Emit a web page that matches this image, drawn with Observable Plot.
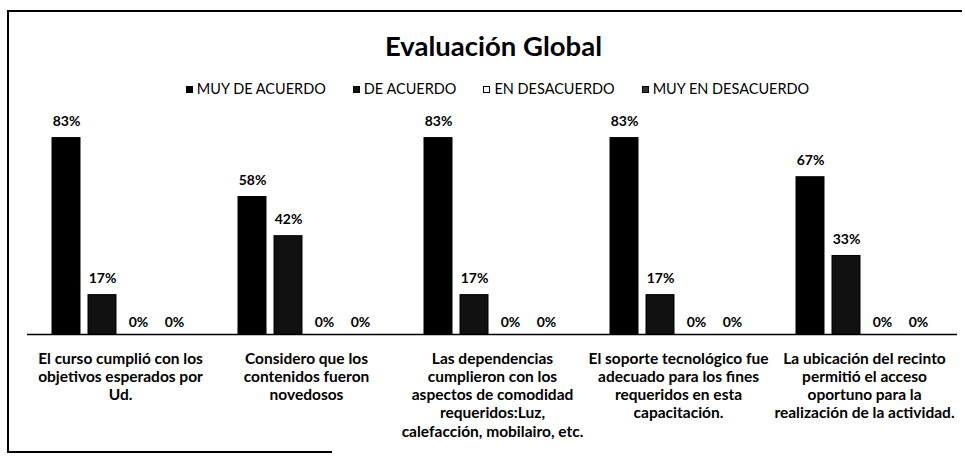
<!DOCTYPE html>
<html>
<head>
<meta charset="utf-8">
<script src="https://cdn.jsdelivr.net/npm/d3@7"></script>
<script src="https://cdn.jsdelivr.net/npm/@observablehq/plot@0.6"></script>
<style>
  html, body { margin: 0; padding: 0; background: #fff; }
  #root { position: relative; width: 965px; height: 457px; overflow: hidden; font-family: Lato, "Open Sans", sans-serif; color: #000; }
  #title { height: 66px; box-sizing: border-box; padding-top: 29px; padding-left: 22px; text-align: center; font-size: 27.5px; line-height: 34px; font-weight: 700; }
  #legend { height: 34px; box-sizing: border-box; padding-top: 12px; padding-left: 30px; display: flex; justify-content: center; gap: 27px; font-size: 14.5px; line-height: 20px; }
  .item { display: flex; align-items: center; white-space: nowrap; }
  .sw { width: 7px; height: 7px; margin-right: 4px; box-sizing: border-box; border: 1px solid #000; }
  .frame { position: absolute; background: #000; }
</style>
</head>
<body>
<div id="root">
  <div id="title"></div>
  <div id="legend"></div>
  <div id="chart"></div>
  <div class="frame" style="left:7px; top:10px; width:1.5px; height:442px;"></div>
  <div class="frame" style="left:7px; top:10px; width:955px; height:1.5px;"></div>
  <div class="frame" style="left:7px; top:451px; width:325px; height:1.5px;"></div>
</div>
<script>
const title = "Evaluación Global";
const categories = [
  "El curso cumplió con los\nobjetivos esperados por\nUd.",
  "Considero que los\ncontenidos fueron\nnovedosos",
  "Las dependencias\ncumplieron con los\naspectos de comodidad\nrequeridos:Luz,\ncalefacción, mobilairo, etc.",
  "El soporte tecnológico fue\nadecuado para los fines\nrequeridos en esta\ncapacitación.",
  "La ubicación del recinto\npermitió el acceso\noportuno para la\nrealización de la actividad."
];
const series = ["MUY DE ACUERDO", "DE ACUERDO", "EN DESACUERDO", "MUY EN DESACUERDO"];
const muyDeAcuerdo = [83.3, 58.3, 83.3, 83.3, 66.7];
const deAcuerdo = [16.7, 41.7, 16.7, 16.7, 33.3];
const enDesacuerdo = [0, 0, 0, 0, 0];
const muyEnDesacuerdo = [0, 0, 0, 0, 0];
const seriesColors = ["#000000", "#111111", "#ffffff", "#333333"];

const valuesBySeries = [muyDeAcuerdo, deAcuerdo, enDesacuerdo, muyEnDesacuerdo];
const data = [];
categories.forEach((c, i) => {
  series.forEach((s, j) => {
    data.push({category: c, series: s, value: valuesBySeries[j][i]});
  });
});

document.getElementById("title").textContent = title;
const legend = document.getElementById("legend");
series.forEach((s, j) => {
  const it = document.createElement("div");
  it.className = "item";
  const sw = document.createElement("span");
  sw.className = "sw";
  sw.style.background = seriesColors[j];
  const t = document.createElement("span");
  t.textContent = s;
  it.appendChild(sw);
  it.appendChild(t);
  legend.appendChild(it);
});

const fmt = d => Math.round(d.value) + "%";

const chart = Plot.plot({
  width: 965,
  height: 357,
  marginLeft: 26,
  marginRight: 8,
  marginTop: 10,
  marginBottom: 123,
  style: {fontFamily: "Lato, 'Open Sans', sans-serif", background: "#fff", color: "#000", overflow: "visible"},
  fx: {domain: categories, padding: 0, label: null},
  x: {domain: series, paddingInner: 0.233, paddingOuter: 0.668, axis: null},
  y: {domain: [0, 95], axis: null},
  color: {domain: series, range: seriesColors},
  marks: [
    Plot.barY(data, {fx: "category", x: "series", y: "value", fill: "series", stroke: "#000", strokeWidth: 1}),
    Plot.ruleY([0], {stroke: "#000", strokeWidth: 1.5}),
    Plot.text(data.filter(d => d.value > 0), {fx: "category", x: "series", y: "value", text: fmt, lineAnchor: "bottom", dy: -12, fontSize: 14, fontWeight: "bold", fill: "#000"}),
    Plot.text(data.filter(d => d.value === 0), {fx: "category", x: "series", y: "value", text: fmt, lineAnchor: "bottom", dy: -8, fontSize: 14, fontWeight: "bold", fill: "#000"}),
    Plot.axisFx({anchor: "bottom", tickSize: 0, tickPadding: 16, label: null, fontSize: 15.5, fontWeight: "bold", lineHeight: 1.18, fill: "#000"})
  ]
});
document.getElementById("chart").appendChild(chart);
</script>
</body>
</html>
